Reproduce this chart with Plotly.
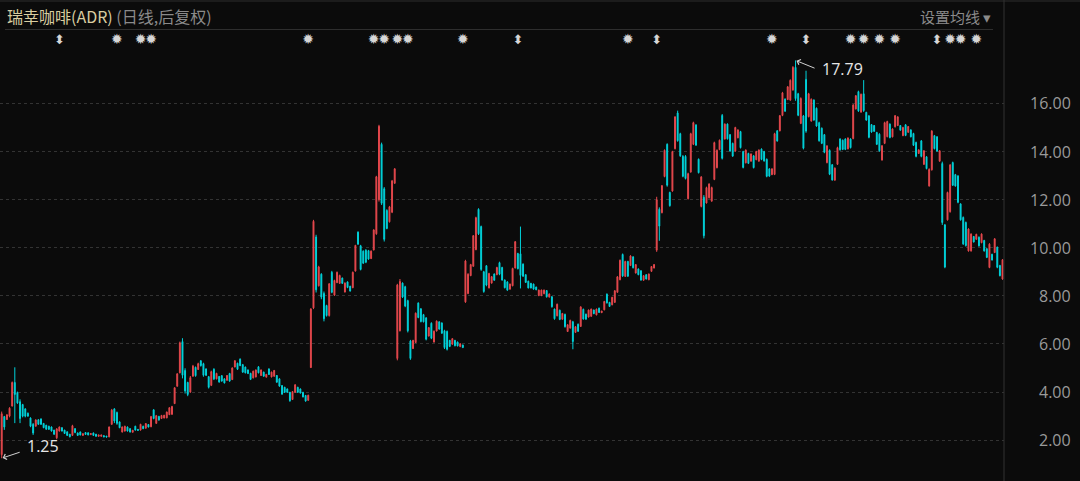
import plotly.graph_objects as go

# ---------------- data ----------------
open_ = [
    1.40, 2.98, 2.86, 3.00, 3.42, 4.40, 3.98, 3.60, 3.48, 3.30,
    3.12, 2.92, 2.66, 2.58, 2.85, 2.88, 2.70, 2.62, 2.58, 2.55,
    2.42, 2.10, 2.38, 2.52, 2.42, 2.35, 2.25, 2.20, 2.48, 2.30,
    2.34, 2.20, 2.32, 2.31, 2.23, 2.30, 2.25, 2.16, 2.16, 2.19,
    2.17, 2.14, 2.66, 3.30, 3.15, 2.76, 2.34, 2.38, 2.55, 2.48,
    2.33, 2.58, 2.45, 2.42, 2.58, 2.50, 2.65, 2.56, 3.26, 2.70,
    2.99, 2.90, 2.92, 2.93, 3.06, 3.08, 3.52, 4.24, 4.80, 6.10,
    4.90, 4.40, 4.00, 4.66, 5.03, 4.94, 5.30, 5.18, 4.96, 4.64,
    4.28, 4.95, 4.55, 4.65, 4.68, 4.55, 4.49, 4.77, 4.52, 5.04,
    5.20, 5.37, 5.14, 5.04, 4.92, 4.78, 4.59, 4.63, 5.05, 4.69,
    4.83, 4.62, 4.96, 4.63, 4.66, 4.69, 4.55, 4.27, 4.20, 4.13,
    3.99, 3.69, 3.99, 4.20, 4.13, 3.99, 3.86, 3.66, 5.02, 7.50,
    10.45, 8.42, 8.90, 8.10, 7.60, 7.18, 8.98, 8.03, 8.55, 8.52,
    8.74, 8.16, 8.58, 8.40, 8.34, 9.03, 10.65, 10.08, 9.86, 9.90,
    9.88, 9.55, 9.91, 10.58, 12.00, 14.30, 12.45, 11.55, 11.08, 11.48,
    12.68, 5.40, 6.55, 8.53, 8.38, 7.80, 6.12, 5.81, 6.06, 7.70,
    7.46, 7.22, 7.08, 6.33, 6.86, 6.08, 6.54, 6.92, 6.87, 6.55,
    6.52, 6.15, 5.99, 6.15, 6.08, 5.89, 5.96, 7.75, 8.10, 8.84,
    9.23, 9.92, 11.60, 10.88, 9.00, 9.25, 8.33, 8.53, 8.91, 8.88,
    9.38, 9.18, 8.66, 8.58, 8.28, 8.42, 9.16, 9.76, 9.75, 9.32,
    8.88, 8.61, 8.52, 8.49, 8.37, 8.01, 8.01, 8.09, 8.22, 7.95,
    7.96, 7.45, 7.17, 7.40, 7.03, 7.23, 6.52, 6.66, 6.92, 6.48,
    6.82, 6.73, 7.44, 7.24, 7.12, 7.15, 7.41, 7.21, 7.49, 7.30,
    7.42, 8.07, 7.73, 7.63, 7.73, 8.15, 8.67, 9.72, 8.81, 9.43,
    9.26, 9.62, 8.95, 9.12, 9.04, 8.65, 8.88, 8.67, 9.02, 9.16,
    9.90, 11.60, 11.46, 12.96, 14.30, 12.30, 12.36, 14.12, 15.60, 14.74,
    13.80, 13.80, 12.04, 13.15, 14.30, 15.10, 13.68, 11.72, 12.10, 11.86,
    12.08, 11.94, 12.84, 13.33, 14.08, 15.50, 14.52, 15.14, 14.70, 14.34,
    14.02, 14.57, 14.83, 14.00, 13.53, 13.92, 13.60, 13.82, 13.66, 13.60,
    14.10, 14.00, 13.68, 13.28, 13.04, 13.05, 14.86, 14.86, 15.50, 16.18,
    16.16, 16.14, 16.56, 17.50, 16.40, 15.17, 15.48, 17.00, 15.45, 15.27,
    16.14, 15.80, 15.20, 14.97, 14.70, 13.54, 14.05, 13.45, 12.81, 13.47,
    14.52, 14.47, 14.52, 14.11, 14.52, 14.54, 15.77, 16.49, 15.64, 16.40,
    15.63, 15.48, 15.12, 15.08, 14.79, 14.72, 13.65, 14.34, 14.62, 15.14,
    14.61, 15.03, 15.08, 15.08, 14.66, 15.11, 14.80, 14.90, 14.75, 14.38,
    13.92, 14.44, 13.47, 13.78, 12.57, 13.24, 14.66, 14.61, 13.60, 13.50,
    10.95, 11.16, 11.50, 13.54, 13.04, 12.98, 11.82, 11.26, 11.05, 9.87,
    9.87, 10.47, 10.35, 10.44, 10.21, 10.30, 9.96, 9.18, 9.73, 9.80,
    10.02, 9.26, 8.70,
]
high = [
    3.19, 3.01, 3.09, 3.37, 4.44, 5.03, 4.02, 3.70, 3.51, 3.33,
    3.15, 2.95, 2.71, 2.87, 2.87, 2.91, 2.71, 2.64, 2.60, 2.57,
    2.43, 2.50, 2.57, 2.54, 2.43, 2.36, 2.26, 2.64, 2.50, 2.32,
    2.36, 2.29, 2.33, 2.32, 2.29, 2.32, 2.26, 2.23, 2.23, 2.20,
    2.18, 2.57, 3.30, 3.33, 3.19, 2.78, 2.57, 2.60, 2.57, 2.50,
    2.43, 2.60, 2.46, 2.68, 2.60, 2.71, 2.67, 3.01, 3.29, 3.05,
    3.01, 3.05, 3.05, 3.19, 3.37, 3.43, 4.20, 4.78, 6.10, 6.24,
    4.99, 4.43, 4.67, 5.13, 5.06, 5.22, 5.33, 5.22, 4.99, 4.67,
    4.89, 4.99, 4.80, 4.67, 4.71, 4.57, 4.71, 4.80, 5.03, 5.33,
    5.22, 5.40, 5.17, 5.06, 4.94, 4.80, 4.89, 4.94, 5.08, 4.94,
    4.85, 4.75, 4.99, 4.85, 4.92, 4.71, 4.57, 4.29, 4.22, 4.15,
    4.01, 4.04, 4.33, 4.22, 4.15, 4.01, 3.88, 3.89, 7.49, 11.16,
    10.54, 9.25, 8.94, 8.18, 7.63, 8.53, 9.04, 8.67, 9.01, 8.88,
    8.76, 8.56, 8.60, 8.42, 9.01, 10.12, 10.68, 10.12, 9.89, 9.94,
    9.91, 9.89, 10.77, 12.99, 15.11, 14.37, 12.52, 11.60, 11.74, 12.82,
    13.31, 8.50, 8.70, 8.56, 8.42, 7.84, 6.17, 6.17, 7.31, 7.73,
    7.49, 7.25, 7.12, 6.70, 6.90, 6.56, 6.98, 6.94, 6.90, 6.59,
    6.56, 6.17, 6.24, 6.17, 6.10, 6.03, 5.97, 9.50, 8.94, 9.33,
    10.53, 11.29, 11.64, 10.92, 9.04, 9.28, 8.96, 8.82, 8.93, 9.21,
    9.42, 9.21, 8.68, 8.61, 8.51, 9.17, 10.28, 9.79, 10.88, 9.35,
    8.90, 8.63, 8.54, 8.51, 8.38, 8.26, 8.26, 8.26, 8.24, 8.10,
    7.99, 7.47, 7.68, 7.43, 7.29, 7.26, 6.82, 7.01, 6.96, 6.74,
    6.85, 7.57, 7.47, 7.26, 7.43, 7.47, 7.43, 7.47, 7.51, 7.38,
    7.79, 8.10, 7.75, 7.96, 8.24, 8.82, 9.51, 9.76, 9.46, 9.46,
    9.69, 9.65, 9.32, 9.14, 9.07, 8.86, 8.90, 8.93, 9.24, 9.32,
    12.12, 11.68, 12.61, 14.09, 14.34, 12.33, 14.03, 15.47, 15.70, 14.78,
    13.85, 13.85, 13.12, 14.78, 15.24, 15.14, 13.71, 12.98, 12.19, 12.54,
    12.68, 12.54, 14.41, 14.09, 14.50, 15.56, 15.17, 15.17, 14.73, 14.37,
    15.03, 14.92, 14.86, 14.03, 14.09, 13.95, 13.92, 13.85, 14.03, 14.09,
    14.13, 14.03, 13.71, 13.30, 13.30, 14.78, 14.89, 15.52, 16.48, 16.21,
    16.72, 17.00, 17.55, 17.79, 16.44, 16.25, 15.52, 17.36, 16.44, 16.21,
    16.17, 15.83, 15.24, 15.00, 14.73, 14.27, 14.09, 13.48, 13.34, 14.20,
    14.55, 14.50, 14.55, 14.59, 14.55, 15.97, 16.35, 16.53, 16.41, 16.97,
    15.65, 15.52, 15.14, 15.10, 14.82, 14.76, 14.27, 15.24, 15.28, 15.17,
    14.96, 15.52, 15.47, 15.10, 15.03, 15.14, 15.06, 14.92, 14.78, 14.41,
    14.09, 14.48, 14.06, 13.81, 13.30, 14.89, 14.69, 14.64, 14.06, 13.58,
    10.99, 12.33, 13.48, 13.58, 13.07, 13.02, 11.85, 11.30, 11.09, 10.81,
    10.60, 10.49, 10.58, 10.47, 10.60, 10.33, 9.98, 10.19, 9.75, 10.40,
    10.05, 9.29, 9.53,
]
low = [
    1.25, 2.43, 2.84, 2.95, 3.40, 2.71, 3.51, 2.71, 2.95, 2.95,
    2.98, 2.54, 2.22, 2.57, 2.64, 2.64, 2.50, 2.43, 2.43, 2.36,
    2.22, 2.04, 2.36, 2.36, 2.26, 2.18, 2.12, 2.18, 2.29, 2.18,
    2.20, 2.18, 2.22, 2.20, 2.22, 2.18, 2.15, 2.15, 2.15, 2.12,
    2.12, 2.12, 2.64, 2.71, 2.64, 2.50, 2.32, 2.36, 2.36, 2.32,
    2.32, 2.40, 2.40, 2.40, 2.46, 2.48, 2.53, 2.54, 2.87, 2.68,
    2.81, 2.89, 2.91, 2.91, 3.05, 3.05, 3.51, 4.23, 4.78, 4.57,
    3.94, 3.83, 3.97, 4.64, 4.64, 4.92, 5.06, 4.64, 4.67, 4.15,
    4.25, 4.50, 4.53, 4.39, 4.43, 4.36, 4.47, 4.43, 4.50, 5.03,
    4.92, 5.08, 4.80, 4.78, 4.75, 4.50, 4.57, 4.61, 4.78, 4.67,
    4.64, 4.61, 4.71, 4.61, 4.64, 4.39, 4.22, 3.88, 3.97, 3.97,
    3.60, 3.67, 3.97, 3.97, 3.94, 3.78, 3.60, 3.64, 5.00, 7.45,
    8.14, 8.39, 7.86, 6.94, 7.14, 7.14, 8.11, 8.00, 8.53, 8.50,
    8.50, 8.14, 8.32, 8.18, 8.32, 9.01, 10.12, 9.06, 9.33, 9.36,
    9.50, 9.53, 9.89, 10.54, 11.92, 11.78, 10.26, 10.77, 11.05, 11.44,
    12.66, 5.32, 6.52, 7.91, 7.53, 6.48, 5.34, 5.79, 6.04, 7.07,
    6.90, 6.90, 6.15, 6.31, 6.20, 6.06, 6.52, 6.59, 6.42, 5.79,
    5.73, 5.87, 5.97, 5.90, 5.90, 5.87, 5.83, 7.71, 8.07, 8.82,
    9.21, 9.90, 10.53, 9.04, 8.13, 8.40, 8.31, 8.51, 8.63, 8.86,
    8.86, 8.63, 8.31, 8.21, 8.26, 8.40, 9.14, 9.10, 8.31, 8.79,
    8.54, 8.31, 8.31, 8.26, 8.24, 7.99, 7.99, 8.07, 7.93, 7.93,
    7.51, 7.01, 7.15, 6.99, 7.01, 6.68, 6.50, 6.64, 5.78, 6.46,
    6.50, 6.71, 7.01, 7.01, 7.10, 7.13, 7.24, 7.19, 7.29, 7.29,
    7.40, 7.68, 7.54, 7.61, 7.71, 8.13, 8.65, 8.79, 8.79, 8.79,
    9.24, 9.14, 8.93, 8.86, 8.63, 8.63, 8.68, 8.65, 9.00, 9.14,
    9.83, 10.29, 11.43, 12.93, 12.54, 11.71, 12.33, 14.09, 14.41, 13.78,
    12.93, 12.84, 12.01, 13.12, 14.27, 14.23, 13.09, 11.68, 10.39, 11.84,
    12.05, 11.91, 12.81, 13.30, 14.06, 13.67, 14.50, 14.50, 13.99, 13.78,
    13.99, 14.55, 14.13, 13.30, 13.51, 13.48, 13.58, 13.30, 13.64, 13.58,
    13.64, 13.58, 12.93, 12.95, 13.02, 13.02, 14.41, 14.84, 15.47, 15.65,
    16.14, 16.11, 16.53, 16.11, 15.47, 15.14, 14.09, 14.78, 15.42, 15.24,
    15.28, 15.03, 14.41, 14.31, 13.93, 13.51, 13.02, 12.79, 12.79, 13.44,
    14.04, 14.06, 14.06, 14.09, 14.13, 14.51, 15.75, 15.65, 15.61, 15.65,
    15.28, 14.55, 14.78, 14.82, 14.27, 13.99, 13.62, 14.31, 14.59, 14.55,
    14.59, 15.00, 15.06, 14.87, 14.64, 14.64, 14.78, 14.59, 14.23, 13.76,
    13.90, 13.76, 13.44, 13.26, 12.54, 13.21, 14.09, 13.99, 13.58, 10.95,
    9.15, 11.13, 11.46, 12.57, 12.54, 11.85, 11.13, 10.12, 10.05, 9.84,
    9.84, 10.22, 10.33, 10.05, 10.19, 9.84, 9.57, 9.15, 9.47, 9.78,
    9.15, 8.81, 8.67,
]
close = [
    3.10, 2.55, 3.05, 3.33, 4.40, 3.90, 3.55, 2.90, 3.00, 3.00,
    3.00, 2.58, 2.30, 2.84, 2.66, 2.66, 2.52, 2.46, 2.45, 2.38,
    2.25, 2.47, 2.55, 2.38, 2.28, 2.20, 2.14, 2.60, 2.32, 2.20,
    2.22, 2.27, 2.24, 2.22, 2.28, 2.20, 2.16, 2.22, 2.22, 2.14,
    2.13, 2.55, 3.25, 2.80, 2.70, 2.52, 2.55, 2.58, 2.38, 2.34,
    2.41, 2.42, 2.41, 2.66, 2.48, 2.69, 2.55, 2.98, 2.90, 3.02,
    2.84, 3.03, 3.04, 3.17, 3.35, 3.40, 4.18, 4.76, 6.05, 4.70,
    4.05, 3.90, 4.60, 5.08, 4.68, 5.18, 5.10, 4.70, 4.70, 4.20,
    4.85, 4.55, 4.78, 4.42, 4.46, 4.38, 4.69, 4.46, 5.00, 5.30,
    4.95, 5.10, 4.83, 4.80, 4.77, 4.53, 4.87, 4.92, 4.80, 4.92,
    4.66, 4.74, 4.73, 4.83, 4.90, 4.41, 4.25, 3.92, 3.99, 3.99,
    3.64, 4.02, 4.30, 3.99, 3.96, 3.80, 3.63, 3.87, 7.45, 11.10,
    8.25, 9.20, 7.95, 7.05, 7.18, 8.50, 8.15, 8.64, 8.98, 8.85,
    8.52, 8.53, 8.35, 8.20, 8.98, 10.10, 10.15, 9.10, 9.36, 9.40,
    9.53, 9.86, 10.74, 12.95, 15.05, 11.85, 10.35, 10.80, 11.70, 12.78,
    13.28, 8.45, 8.60, 7.95, 7.58, 6.55, 5.40, 6.15, 7.28, 7.10,
    6.93, 6.92, 6.20, 6.68, 6.24, 6.53, 6.95, 6.62, 6.45, 5.85,
    5.78, 5.90, 6.22, 5.93, 5.92, 6.01, 5.85, 9.45, 8.90, 9.30,
    10.50, 11.25, 10.58, 9.10, 8.18, 8.45, 8.93, 8.80, 8.65, 9.18,
    8.90, 8.66, 8.34, 8.24, 8.49, 9.14, 10.25, 9.13, 8.85, 8.82,
    8.56, 8.33, 8.33, 8.28, 8.25, 8.24, 8.24, 8.24, 7.96, 8.08,
    7.55, 7.05, 7.65, 7.02, 7.27, 6.72, 6.80, 6.98, 6.10, 6.72,
    6.53, 7.54, 7.04, 7.03, 7.41, 7.45, 7.26, 7.45, 7.31, 7.37,
    7.77, 7.71, 7.56, 7.94, 8.21, 8.79, 9.48, 8.83, 9.43, 8.82,
    9.66, 9.17, 9.30, 8.88, 8.66, 8.84, 8.70, 8.91, 9.22, 9.30,
    12.00, 10.90, 12.58, 14.05, 12.60, 11.75, 14.00, 15.44, 14.45, 13.82,
    12.97, 12.88, 13.08, 14.74, 15.20, 14.27, 13.12, 12.94, 10.50, 12.50,
    12.65, 12.50, 14.37, 14.05, 14.47, 13.72, 15.14, 14.53, 14.02, 13.81,
    15.00, 14.90, 14.16, 13.34, 14.06, 13.51, 13.90, 13.33, 14.00, 14.06,
    13.67, 13.61, 12.97, 12.98, 13.28, 14.74, 14.44, 15.49, 16.44, 15.68,
    16.69, 16.96, 17.50, 16.20, 15.51, 16.21, 14.14, 14.85, 16.40, 16.17,
    15.31, 15.06, 14.45, 14.34, 13.97, 14.23, 13.06, 12.82, 13.31, 14.16,
    14.07, 14.09, 14.09, 14.56, 14.16, 15.93, 16.32, 15.69, 16.38, 15.70,
    15.31, 14.59, 14.81, 14.84, 14.30, 14.03, 14.24, 15.20, 15.25, 14.58,
    14.94, 15.49, 15.44, 14.89, 15.00, 14.67, 15.04, 14.61, 14.26, 13.80,
    14.07, 13.80, 14.03, 13.29, 13.26, 14.85, 14.12, 14.02, 14.03, 11.05,
    9.20, 12.30, 13.44, 12.60, 12.57, 11.89, 11.16, 10.16, 10.09, 10.78,
    10.57, 10.24, 10.56, 10.08, 10.57, 9.87, 9.60, 10.15, 9.49, 10.37,
    9.19, 8.84, 9.50,
]
assert len(open_) == len(high) == len(low) == len(close), (
    len(open_), len(high), len(low), len(close))

x_idx = list(range(len(close)))

tick_values = [2, 4, 6, 8, 10, 12, 14, 16]
tick_labels = ["2.00", "4.00", "6.00", "8.00", "10.00", "12.00", "14.00", "16.00"]

# event markers on the top row (candle indices)
star_idx = [44, 53, 57, 117, 142, 146, 151, 155, 176, 239, 294,
            324, 329, 335, 341, 362, 366, 372]
arrow_idx = [22, 197, 250, 307, 357]
marker_level = 18.6

low_label = "1.25"
low_at = (0, 1.25)
high_label = "17.79"
high_at = (303, 17.79)

title_main = "瑞幸咖啡(ADR)"
title_sub = "(日线,后复权)"
menu_text = "设置均线 ▾"

# ---------------- figure ----------------
BG = "#0b0b0b"
UP = "#e5484d"
DOWN = "#00d2da"
N = len(close)

fig = go.Figure()
fig.add_trace(go.Candlestick(
    x=x_idx, open=open_, high=high, low=low, close=close,
    increasing=dict(line=dict(color=UP, width=1), fillcolor=UP),
    decreasing=dict(line=dict(color=DOWN, width=1), fillcolor=DOWN),
    whiskerwidth=0, hoverinfo="skip", showlegend=False,
))
fig.add_trace(go.Scatter(
    x=star_idx, y=[marker_level] * len(star_idx), mode="text",
    text=["✹"] * len(star_idx),
    textfont=dict(family="DejaVu Sans", size=14, color="#d6d6d6"),
    hoverinfo="skip", showlegend=False,
))
fig.add_trace(go.Scatter(
    x=arrow_idx, y=[marker_level] * len(arrow_idx), mode="text",
    text=["⬍"] * len(arrow_idx),
    textfont=dict(family="DejaVu Sans", size=13, color="#d6d6d6"),
    hoverinfo="skip", showlegend=False,
))

annotations = []
# y tick labels, right aligned
for v, lab in zip(tick_values, tick_labels):
    annotations.append(dict(
        x=1.0687, xref="paper", y=v, yref="y", text=lab, showarrow=False,
        xanchor="right", yanchor="middle",
        font=dict(family="Open Sans", size=16, color="#9a9a9a"),
    ))

# header
annotations.append(dict(
    x=5 / 1004, xref="paper", y=(470 - 16) / 470, yref="paper",
    xanchor="left", yanchor="middle", showarrow=False,
    text=f'<span style="color:#d9cda0">{title_main}</span> '
         f'<span style="color:#8a8a8a">{title_sub}</span>',
    font=dict(family="Noto Sans CJK SC", size=16),
))
annotations.append(dict(
    x=993 / 1004, xref="paper", y=(470 - 16) / 470, yref="paper",
    xanchor="right", yanchor="middle", showarrow=False, text=menu_text,
    font=dict(family="Noto Sans CJK SC", size=15, color="#8a8a8a"),
))

# min / max labels with arrows
ARROW_C = "#d0d0d0"
annotations.append(dict(
    x=low_at[0], y=low_at[1], xref="x", yref="y", text=" ",
    showarrow=True, arrowhead=4, arrowsize=1.1, arrowwidth=1,
    arrowcolor=ARROW_C, ax=21, ay=-7, standoff=1,
))
annotations.append(dict(
    x=low_at[0], y=low_at[1], xref="x", yref="y", text=low_label,
    showarrow=False, xanchor="left", yanchor="middle",
    xshift=23, yshift=12,
    font=dict(family="Open Sans", size=16, color="#e6e6e6"),
))
annotations.append(dict(
    x=high_at[0], y=high_at[1], xref="x", yref="y", text=" ",
    showarrow=True, arrowhead=4, arrowsize=1.1, arrowwidth=1,
    arrowcolor=ARROW_C, ax=22, ay=9, standoff=1,
))
annotations.append(dict(
    x=high_at[0], y=high_at[1], xref="x", yref="y", text=high_label,
    showarrow=False, xanchor="left", yanchor="middle",
    xshift=24, yshift=-9,
    font=dict(family="Open Sans", size=16, color="#e6e6e6"),
))

LINE_C = "#2e2e2e"
shapes = [
    # right separator
    dict(type="line", xref="paper", yref="paper", x0=1, x1=1,
         y0=-11 / 470, y1=1, line=dict(color="#333333", width=1)),
    # header underline
    dict(type="line", xref="paper", yref="paper", x0=5 / 1004, x1=993 / 1004,
         y0=(470 - 29.5) / 470, y1=(470 - 29.5) / 470,
         line=dict(color=LINE_C, width=1)),
    # top border
    dict(type="line", xref="paper", yref="paper", x0=0, x1=1080 / 1004,
         y0=(470 - 1) / 470, y1=(470 - 1) / 470,
         line=dict(color=LINE_C, width=1)),
]

fig.update_layout(
    width=1080, height=481,
    margin=dict(l=0, r=76, t=0, b=11),
    paper_bgcolor=BG, plot_bgcolor=BG,
    boxgap=0.5,
    showlegend=False,
    xaxis=dict(range=[-0.65, N - 1 + 0.56], showgrid=False, zeroline=False,
               showticklabels=False, showline=False,
               rangeslider=dict(visible=False)),
    yaxis=dict(range=[0.761, 20.30], tickvals=tick_values,
               showticklabels=False, showgrid=True, gridcolor="#333333",
               griddash="dot", gridwidth=1, zeroline=False, showline=False,
               ticks=""),
    annotations=annotations,
    shapes=shapes,
    hovermode=False,
)

page_fix = ("document.body.style.margin='0';"
            "document.body.style.padding='0';"
            "document.body.style.overflow='hidden';"
            "document.body.style.background='#0b0b0b';")

fig.write_html("out.html", post_script=page_fix,
               config={"displayModeBar": False, "staticPlot": True})
